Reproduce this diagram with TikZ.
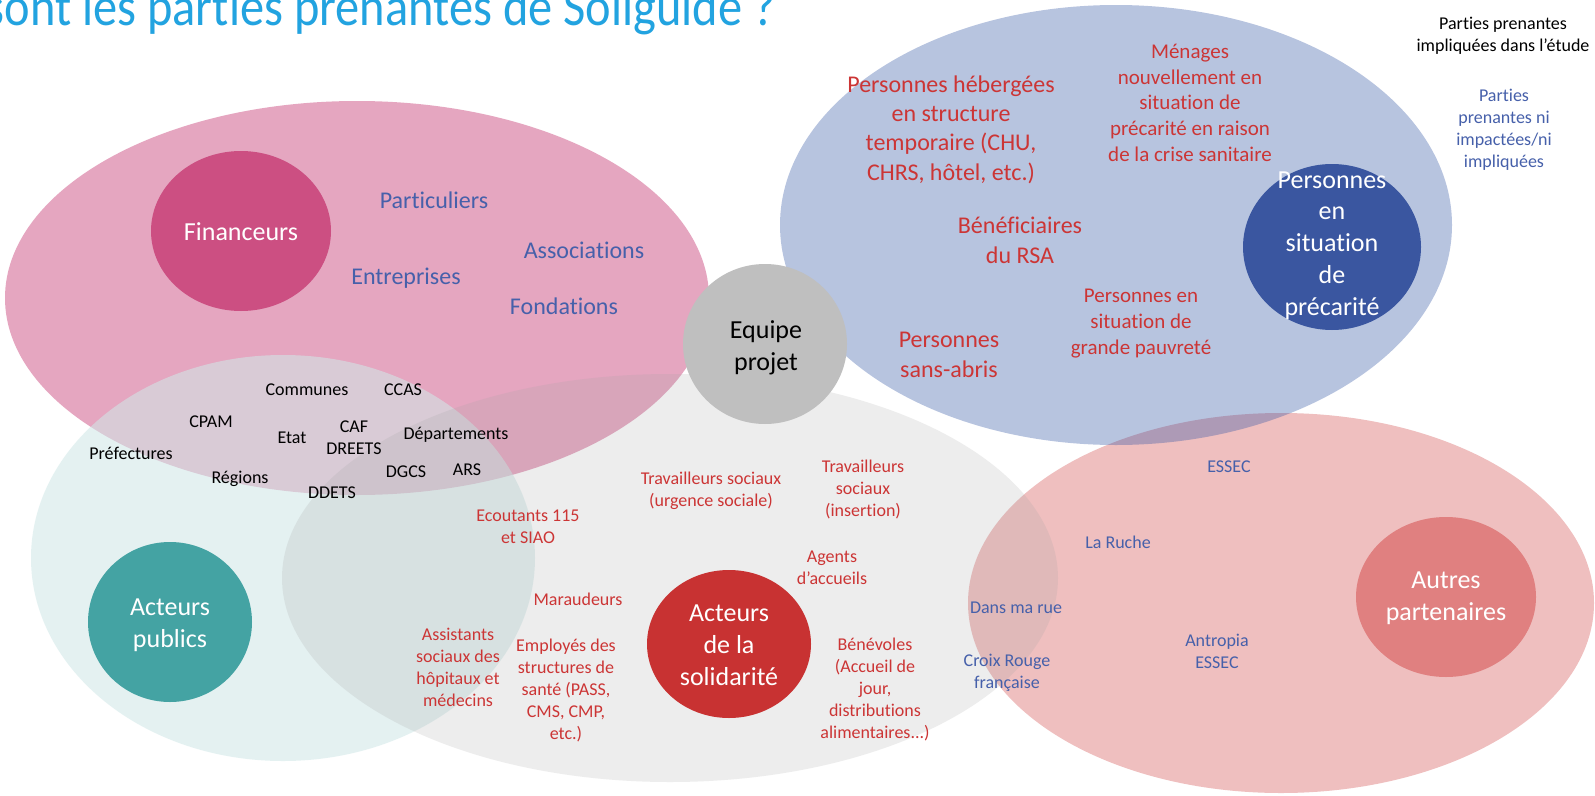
\documentclass[tikz,border=0pt]{standalone}
\usepackage{fontspec}
\setmainfont{Carlito}[Ligatures={NoCommon}]
\usetikzlibrary{shapes.geometric}

\definecolor{finpink}{HTML}{CC4F82}
\definecolor{pubteal}{HTML}{44A3A3}
\definecolor{pubzone}{HTML}{D0E8E8}
\definecolor{solred}{HTML}{C83232}
\definecolor{solzone}{HTML}{A5A5A5}
\definecolor{prcblue}{HTML}{3A56A0}
\definecolor{prczone}{HTML}{3356A6}
\definecolor{parred}{HTML}{E08080}
\definecolor{teamgray}{HTML}{BFBFBF}
\definecolor{titleblue}{HTML}{22A3E0}
\definecolor{lblred}{HTML}{CC3535}
\definecolor{lblblue}{HTML}{4660AA}

% multi-line labels are anchored on the baseline of their last line
\tikzset{
  zone/.style={ellipse, draw=none, inner sep=0pt},
  hub/.style={ellipse, draw=none, inner sep=0pt},
  txt/.style={inner sep=0pt, align=center, anchor=base},
  fsa/.style={font=\fontsize{18}{22}\selectfont},
  fsb/.style={font=\fontsize{21}{25.6}\selectfont},
  fsc/.style={font=\fontsize{24}{29.3}\selectfont},
  fsd/.style={font=\fontsize{26}{31.7}\selectfont},
  blk/.style={txt, fsa, text=black},
  redlbl/.style={txt, text=lblred},
  bluelbl/.style={txt, text=lblblue},
  hubtxt/.style={txt, fsd, text=white},
}

\begin{document}
\begin{tikzpicture}[x=1pt, y=-1pt]
\useasboundingbox (0,0) rectangle (1595,795);
\clip (0,0) rectangle (1595,795);
\fill[white] (0,0) rectangle (1595,795);

% title line, cut by the top of the page
\node[inner sep=0pt, anchor=base east, text=titleblue,
      font=\fontsize{55}{60}\selectfont] (title) at (776,25)
  {\scalebox{0.88}[1]{sont les parties prenantes de Soliguide ?}};

% stakeholder zones
\node[zone, fill=finpink, fill opacity=.5, minimum width=704pt, minimum height=394pt] (zfin) at (357,298) {};
\node[zone, fill=pubzone, fill opacity=.57, minimum width=504pt, minimum height=406pt] (zpub) at (283,558) {};
\node[zone, fill=parred, fill opacity=.5, minimum width=626pt, minimum height=380pt] (zpar) at (1281,603) {};
\node[zone, fill=solzone, fill opacity=.2, minimum width=776pt, minimum height=408pt] (zsol) at (670,578) {};
\node[zone, fill=prczone, fill opacity=.35, minimum width=672pt, minimum height=440pt] (zprc) at (1116,225) {};

% central discs
\node[hub, fill=finpink, minimum width=180pt, minimum height=160pt] (hfin) at (241,231) {};
\node[hub, fill=teamgray, minimum width=164pt, minimum height=160pt] (hteam) at (765,344) {};
\node[hub, fill=prcblue, minimum width=178pt, minimum height=166pt] (hprc) at (1332,247) {};
\node[hub, fill=pubteal, minimum width=164pt, minimum height=160pt] (hpub) at (170,622) {};
\node[hub, fill=solred, minimum width=164pt, minimum height=148pt] (hsol) at (729,644) {};
\node[hub, fill=parred, minimum width=180pt, minimum height=160pt] (hpar) at (1446,597) {};

\node[hubtxt] (tfin) at (241,240) {Financeurs};
\node[hubtxt, text=black] (tteam) at (766,370) {Equipe\\projet};
\node[hubtxt] (tprc) at (1332,315) {Personnes\\en\\situation\\de\\précarité};
\node[hubtxt] (tpub) at (170,647) {Acteurs\\publics};
\node[hubtxt] (tsol) at (729,685) {Acteurs\\de la\\solidarité};
\node[hubtxt] (tpar) at (1446,620) {Autres\\partenaires};

% legend
\node[blk] (leg1) at (1503,51) {Parties prenantes\\impliquées dans l’étude};
\node[bluelbl, fsa] (leg2) at (1504,167) {Parties\\prenantes ni\\impactées/ni\\impliquées};

% funders
\node[bluelbl, fsc] (fpart) at (434,208) {Particuliers};
\node[bluelbl, fsc] (fasso) at (584,258) {Associations};
\node[bluelbl, fsc] (fentr) at (406,284) {Entreprises};
\node[bluelbl, fsc] (ffond) at (564,314) {Fondations};

% public actors
\node[blk] (pcom) at (307,395) {Communes};
\node[blk] (pccas) at (403,395) {CCAS};
\node[blk] (pcpam) at (211,427) {CPAM};
\node[blk] (petat) at (292,443) {Etat};
\node[blk] (pcaf) at (354,454) {CAF\\DREETS};
\node[blk] (pdep) at (456,439) {Départements};
\node[blk] (ppref) at (131,459) {Préfectures};
\node[blk] (preg) at (240,483) {Régions};
\node[blk] (pdgcs) at (406,477) {DGCS};
\node[blk] (pars) at (467,475) {ARS};
\node[blk] (pddets) at (332,498) {DDETS};

% people in precarious situations
\node[redlbl, fsc] (rheb) at (951,180) {Personnes hébergées\\en structure\\temporaire (CHU,\\CHRS, hôtel, etc.)};
\node[redlbl, fsb] (rmen) at (1190,161) {Ménages\\nouvellement en\\situation de\\précarité en raison\\de la crise sanitaire};
\node[redlbl, fsc] (rrsa) at (1020,263) {Bénéficiaires\\du RSA};
\node[redlbl, fsb] (rpauv) at (1141,354) {Personnes en\\situation de\\grande pauvreté};
\node[redlbl, fsc] (rsdf) at (949,377) {Personnes\\sans-abris};

% solidarity actors
\node[redlbl, fsa] (surg) at (711,506) {Travailleurs sociaux\\(urgence sociale)};
\node[redlbl, fsa] (sins) at (863,516) {Travailleurs\\sociaux\\(insertion)};
\node[redlbl, fsa] (s115) at (528,543) {Ecoutants 115\\et SIAO};
\node[redlbl, fsa] (sagt) at (832,584) {Agents\\d’accueils};
\node[redlbl, fsa] (smar) at (578,605) {Maraudeurs};
\node[redlbl, fsa] (sass) at (458,706) {Assistants\\sociaux des\\hôpitaux et\\médecins};
\node[redlbl, fsa] (semp) at (566,739) {Employés des\\structures de\\santé (PASS,\\CMS, CMP,\\etc.)};
\node[redlbl, fsa] (sben) at (875,738) {Bénévoles\\(Accueil de\\jour,\\distributions\\alimentaires...)};

% other partners
\node[bluelbl, fsa] (oess) at (1229,472) {ESSEC};
\node[bluelbl, fsa] (oruc) at (1118,548) {La Ruche};
\node[bluelbl, fsa] (odmr) at (1016,613) {Dans ma rue};
\node[bluelbl, fsa] (ocrf) at (1007,688) {Croix Rouge\\française};
\node[bluelbl, fsa] (oant) at (1217,668) {Antropia\\ESSEC};
\end{tikzpicture}
\end{document}
